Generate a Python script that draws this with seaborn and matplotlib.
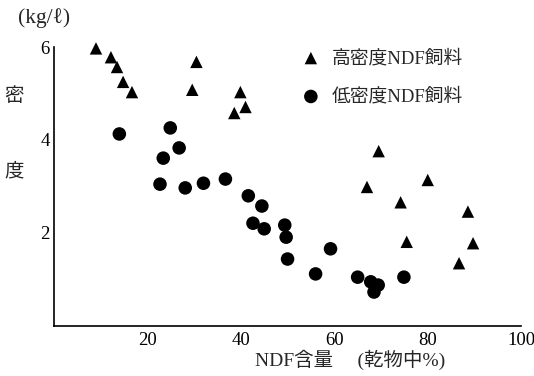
import pandas as pd
import seaborn as sns
import matplotlib.pyplot as plt

# high density NDF feeds (triangles)
high_x = [9.0, 12.2, 13.5, 14.8, 16.7, 30.5, 29.6, 39.9, 38.6, 41.0,
          69.5, 67.0, 80.0, 74.2, 88.6, 75.5, 89.7, 86.7]
high_y = [5.97, 5.78, 5.57, 5.25, 5.03, 5.68, 5.08, 5.03, 4.58, 4.71,
          3.76, 2.99, 3.14, 2.66, 2.46, 1.81, 1.78, 1.35]

# low density NDF feeds (circles)
low_x = [14.0, 24.9, 23.4, 26.8, 22.7, 28.1, 32.0, 36.7, 41.6, 44.5,
         42.6, 45.0, 49.4, 49.7, 50.0, 59.2, 56.0, 65.0, 67.8, 69.4,
         68.5, 74.9]
low_y = [4.13, 4.26, 3.61, 3.83, 3.05, 2.97, 3.07, 3.16, 2.80, 2.58,
         2.21, 2.09, 2.17, 1.91, 1.44, 1.66, 1.12, 1.05, 0.95, 0.88,
         0.73, 1.05]

labels = ['高密度NDF飼料', '低密度NDF飼料']
x_ticks = [20, 40, 60, 80, 100]
y_ticks = [2, 4, 6]

sns.set_style('white')
serif_cjk = ['Liberation Serif', 'Noto Sans CJK JP', 'DejaVu Sans']
plt.rcParams['font.family'] = serif_cjk

high = pd.DataFrame({'ndf': high_x, 'density': high_y})
low = pd.DataFrame({'ndf': low_x, 'density': low_y})

fig = plt.figure(figsize=(5.34, 3.76), dpi=100)
ax = fig.add_axes([0.101, 0.133, 0.875, 0.742])

sns.scatterplot(data=high, x='ndf', y='density', marker='^', s=80,
                color='black', edgecolor='none', label=labels[0], ax=ax,
                clip_on=False, zorder=3)
sns.scatterplot(data=low, x='ndf', y='density', marker='o', s=95,
                color='black', edgecolor='none', label=labels[1], ax=ax,
                clip_on=False, zorder=3)

ax.set_xlim(0, 100)
ax.set_ylim(0, 6)
ax.set_xticks(x_ticks)
ax.set_yticks(y_ticks)
ax.tick_params(axis='both', direction='in', labelsize=13.5, width=1.1,
               color='black', labelcolor='black')
ax.tick_params(axis='x', length=6, pad=4)
ax.tick_params(axis='y', length=5, pad=3)
for side in ['top', 'right']:
    ax.spines[side].set_visible(False)
for side in ['left', 'bottom']:
    ax.spines[side].set_color('black')
    ax.spines[side].set_linewidth(1.2)

ax.set_xlabel('')
ax.set_ylabel('')
fig.text(0.655, 0.042, 'NDF含量　 (乾物中%)', ha='center', va='center',
         fontsize=14)
fig.text(0.083, 0.953, '(kg/ℓ)', ha='center', va='center', fontsize=15.5)
fig.text(0.027, 0.745, '密', ha='center', va='center', fontsize=14)
fig.text(0.027, 0.543, '度', ha='center', va='center', fontsize=14)

ax.legend(loc='upper left', bbox_to_anchor=(0.54, 0.889),
          bbox_transform=fig.transFigure, frameon=False, fontsize=13.5,
          handletextpad=0.3, labelspacing=1.1, borderaxespad=0,
          handlelength=1.6)

plt.savefig('out.png', dpi=100)
